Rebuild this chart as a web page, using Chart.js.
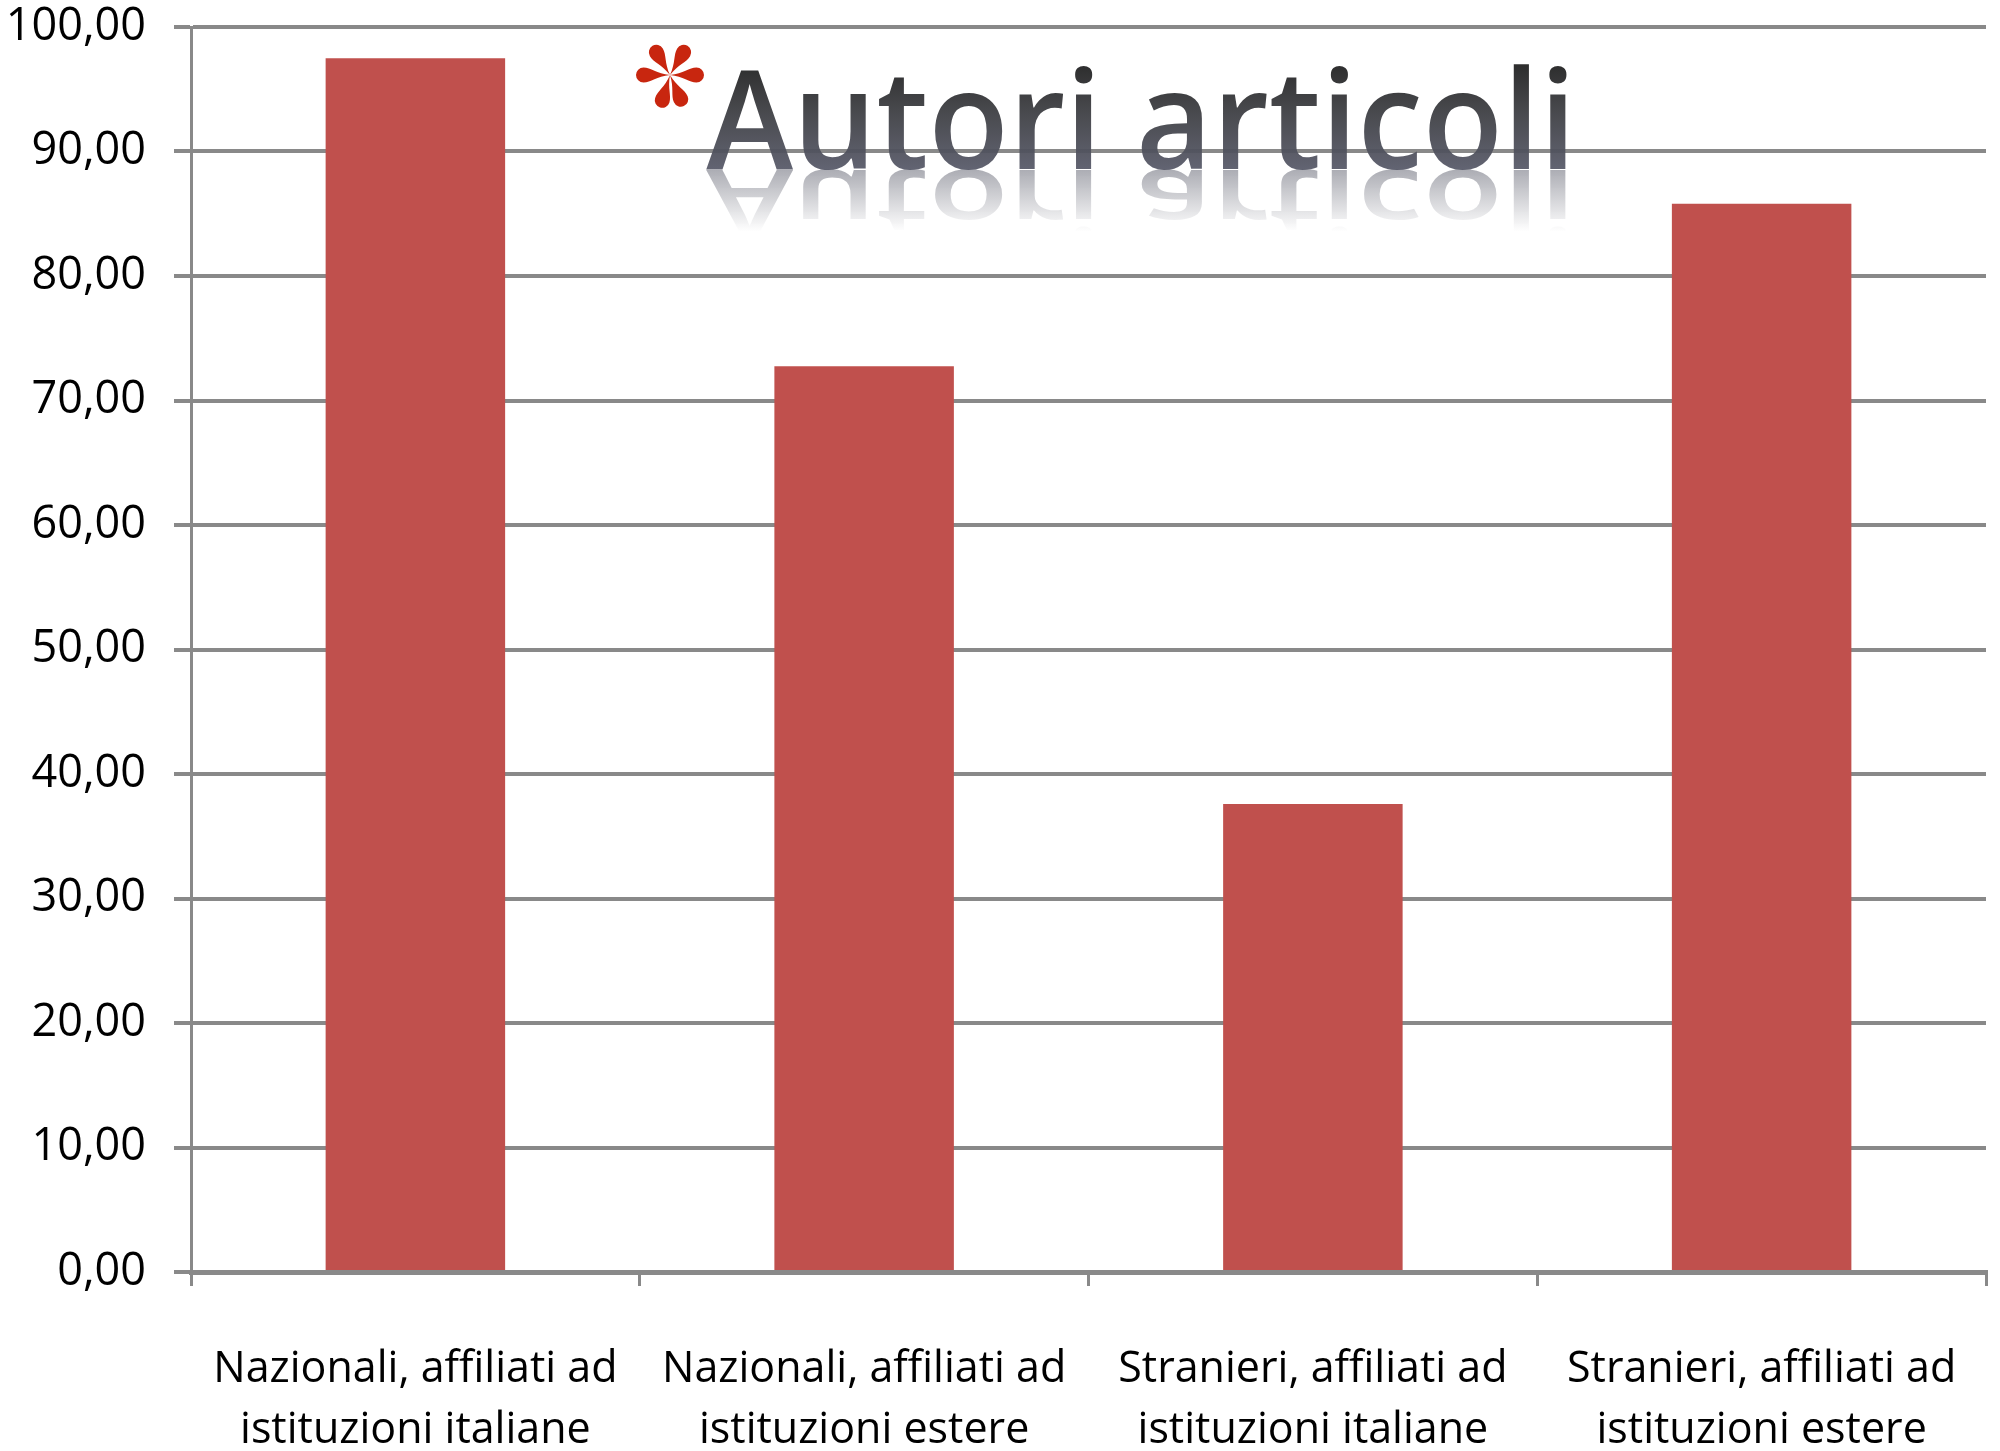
<!DOCTYPE html>
<html>
<head>
<meta charset="utf-8">
<script src="https://cdn.jsdelivr.net/npm/chart.js@4"></script>
<style>
  html, body { margin: 0; padding: 0; background: #fff; }
  #chart { display: block; }
</style>
</head>
<body>
<canvas id="chart" width="2000" height="1451"></canvas>
<script>
// Chart data
const categories = [
    ['Nazionali, affiliati ad', 'istituzioni italiane'],
    ['Nazionali, affiliati ad', 'istituzioni estere'],
    ['Stranieri, affiliati ad', 'istituzioni italiane'],
    ['Stranieri, affiliati ad', 'istituzioni estere']
];
const values = [97.5, 72.75, 37.6, 85.8];
const yTicks = [0, 10, 20, 30, 40, 50, 60, 70, 80, 90, 100];
const titleText = 'Autori articoli';

const axisGray = '#898989';
const labelFont = '"Open Sans", "DejaVu Sans", sans-serif';

// Title with red asterisk and mirrored reflection, drawn over the plot
const titlePlugin = {
    id: 'slideTitle',
    afterDraw(chart) {
        const ctx = chart.ctx;
        const left = 712, base = 169, capH = 98, targetW = 870;

        ctx.save();
        ctx.font = '600 137px ' + labelFont;
        ctx.textBaseline = 'alphabetic';
        const sx = targetW / ctx.measureText(titleText).width;

        // main text
        ctx.save();
        ctx.translate(left, base);
        ctx.scale(sx, 1);
        const grad = ctx.createLinearGradient(0, -capH - 10, 0, 0);
        grad.addColorStop(0, '#1e1e1e');
        grad.addColorStop(0.45, '#3c3d41');
        grad.addColorStop(1, '#585a69');
        ctx.globalAlpha = 0.94;
        ctx.fillStyle = grad;
        ctx.fillText(titleText, -6, 0);
        ctx.restore();

        // reflection
        ctx.save();
        ctx.translate(left, base + 1);
        ctx.scale(sx, -0.66);
        const rgrad = ctx.createLinearGradient(0, 0, 0, -capH);
        rgrad.addColorStop(0, 'rgba(90,92,106,0.5)');
        rgrad.addColorStop(0.95, 'rgba(90,92,106,0)');
        ctx.fillStyle = rgrad;
        ctx.fillText(titleText, -6, 0);
        ctx.restore();

        // asterisk
        ctx.save();
        ctx.translate(670, 75);
        ctx.fillStyle = '#c8260f';
        const angles = [0, 180, -59, -121, 66, 107];
        const L = 34, w = 7.5;
        angles.forEach(a => {
            ctx.save();
            ctx.rotate(a * Math.PI / 180);
            ctx.beginPath();
            ctx.moveTo(0, 0);
            ctx.bezierCurveTo(L * 0.4, -1.5, L - w * 2, -w, L - w, -w);
            ctx.arc(L - w, 0, w, -Math.PI / 2, Math.PI / 2);
            ctx.bezierCurveTo(L - w * 2, w, L * 0.4, 1.5, 0, 0);
            ctx.fill();
            ctx.restore();
        });
        ctx.restore();

        ctx.restore();
    }
};

new Chart(document.getElementById('chart'), {
    type: 'bar',
    data: {
        labels: categories,
        datasets: [{
            data: values,
            backgroundColor: '#c0504d',
            borderWidth: 0,
            barPercentage: 0.4,
            categoryPercentage: 1.0
        }]
    },
    options: {
        responsive: false,
        animation: false,
        events: [],
        layout: { padding: { top: 27, right: 14, left: 0, bottom: 0 } },
        plugins: {
            legend: { display: false },
            tooltip: { enabled: false },
            title: { display: false }
        },
        scales: {
            x: {
                offset: true,
                grid: {
                    offset: true,
                    drawOnChartArea: false,
                    drawTicks: true,
                    tickLength: 14,
                    color: axisGray,
                    lineWidth: 3
                },
                border: { display: true, color: axisGray, width: 5 },
                ticks: {
                    color: '#000',
                    padding: 54,
                    maxRotation: 0,
                    autoSkip: false,
                    font: { family: labelFont, size: 43, lineHeight: 1.4 }
                },
                afterFit(scale) {
                    scale.height = 179;
                    scale.paddingLeft = 0;
                    scale.paddingRight = 0;
                }
            },
            y: {
                min: 0,
                max: 100,
                afterBuildTicks(scale) {
                    scale.ticks = yTicks.map(v => ({ value: v }));
                },
                grid: {
                    color: axisGray,
                    lineWidth: 4,
                    tickLength: 17
                },
                border: { display: true, color: axisGray, width: 3 },
                ticks: {
                    color: '#000',
                    padding: 28,
                    font: { family: labelFont, size: 45, lineHeight: 1 },
                    callback: v => v.toFixed(2).replace('.', ',')
                },
                afterFit(scale) {
                    scale.width = 191;
                    scale.paddingTop = 0;
                    scale.paddingBottom = 0;
                }
            }
        }
    },
    plugins: [titlePlugin]
});
</script>
</body>
</html>
